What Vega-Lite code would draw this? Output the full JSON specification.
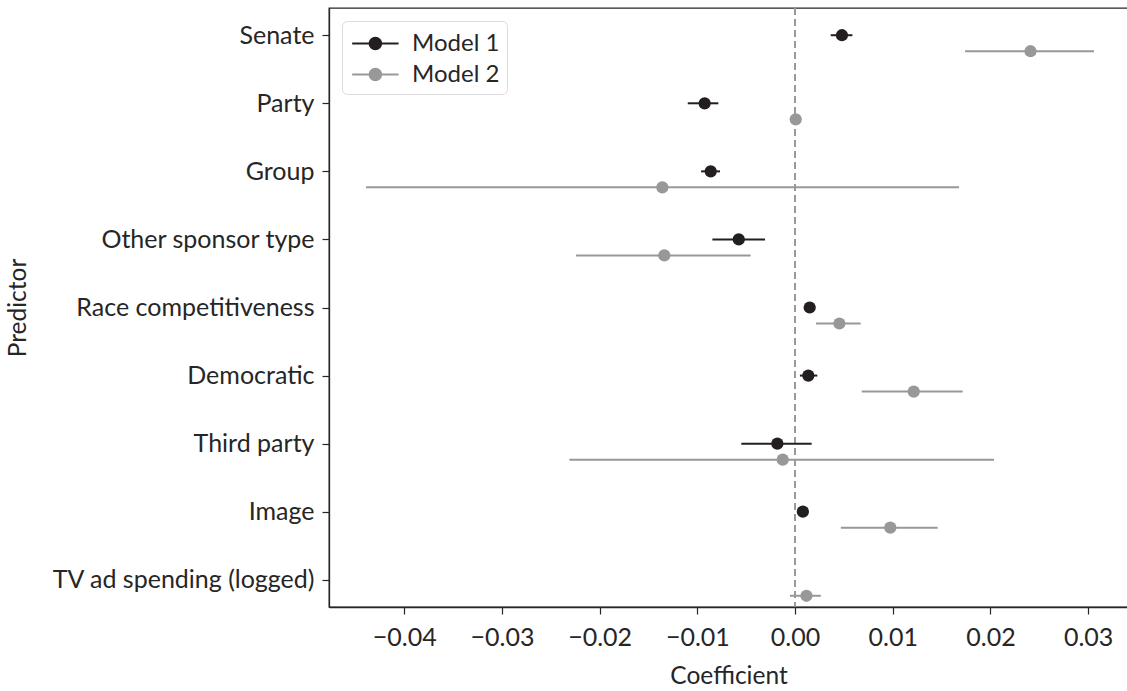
{
  "$schema": "https://vega.github.io/schema/vega-lite/v6.json",
  "width": 799,
  "height": 599,
  "autosize": {"type": "none"},
  "padding": {"left": 329, "top": 8, "right": 0, "bottom": 84},
  "background": "white",
  "config": {
    "font": "Lato",
    "view": {"stroke": "#262626", "strokeWidth": 1.3},
    "axis": {
      "grid": false,
      "domainColor": "#262626",
      "domainWidth": 1.3,
      "tickColor": "#262626",
      "tickWidth": 1.2,
      "tickSize": 7,
      "labelColor": "#262626",
      "titleColor": "#262626",
      "labelFont": "Lato",
      "titleFont": "Lato",
      "labelFontSize": 25,
      "titleFontSize": 24.5,
      "titleFontWeight": "normal",
      "labelPadding": 8,
      "labelLimit": 500
    }
  },
  "data": {
    "values": [
      {"model": "Model 1", "predictor": "Senate", "est": 0.0048, "lo": 0.00365, "hi": 0.00587},
      {"model": "Model 1", "predictor": "Party", "est": -0.00925, "lo": -0.01098, "hi": -0.00785},
      {"model": "Model 1", "predictor": "Group", "est": -0.00863, "lo": -0.00962, "hi": -0.00768},
      {"model": "Model 1", "predictor": "Other sponsor type", "est": -0.00576, "lo": -0.00846, "hi": -0.00307},
      {"model": "Model 1", "predictor": "Race competitiveness", "est": 0.0015, "lo": 0.0012, "hi": 0.0018},
      {"model": "Model 1", "predictor": "Democratic", "est": 0.00136, "lo": 0.0005, "hi": 0.00228},
      {"model": "Model 1", "predictor": "Third party", "est": -0.00181, "lo": -0.0055, "hi": 0.0017},
      {"model": "Model 1", "predictor": "Image", "est": 0.0008, "lo": 0.0005, "hi": 0.0011},
      {"model": "Model 2", "predictor": "Senate", "est": 0.0241, "lo": 0.0174, "hi": 0.0306},
      {"model": "Model 2", "predictor": "Party", "est": 0.00007, "lo": -0.0002, "hi": 0.0003},
      {"model": "Model 2", "predictor": "Group", "est": -0.01358, "lo": -0.04391, "hi": 0.01679},
      {"model": "Model 2", "predictor": "Other sponsor type", "est": -0.01338, "lo": -0.02242, "hi": -0.00454},
      {"model": "Model 2", "predictor": "Race competitiveness", "est": 0.00454, "lo": 0.00215, "hi": 0.00672},
      {"model": "Model 2", "predictor": "Democratic", "est": 0.01215, "lo": 0.00683, "hi": 0.01716},
      {"model": "Model 2", "predictor": "Third party", "est": -0.00126, "lo": -0.0231, "hi": 0.02037},
      {"model": "Model 2", "predictor": "Image", "est": 0.00975, "lo": 0.00469, "hi": 0.0146},
      {"model": "Model 2", "predictor": "TV ad spending (logged)", "est": 0.00117, "lo": -0.00052, "hi": 0.00264}
    ]
  },
  "encoding": {
    "y": {
      "field": "predictor",
      "type": "nominal",
      "sort": ["Senate", "Party", "Group", "Other sponsor type", "Race competitiveness", "Democratic", "Third party", "Image", "TV ad spending (logged)"],
      "scale": {"type": "point", "padding": 0.4, "domain": ["Senate", "Party", "Group", "Other sponsor type", "Race competitiveness", "Democratic", "Third party", "Image", "TV ad spending (logged)"]},
      "axis": {"title": "Predictor", "titleX": -311, "titleY": 299.5, "titleAlign": "center", "titleBaseline": "middle", "titleAngle": 270}
    }
  },
  "layer": [
    {
      "mark": {"type": "rule", "strokeDash": [7, 4], "color": "#9a9a9a", "strokeWidth": 1.6},
      "encoding": {
        "x": {"datum": 0, "type": "quantitative"},
        "y": null
      }
    },
    {
      "transform": [{"filter": "datum.model === 'Model 1'"}],
      "encoding": {
        "color": {
          "field": "model",
          "type": "nominal",
          "scale": {"domain": ["Model 1", "Model 2"], "range": ["#231f20", "#98989b"]},
          "legend": {
            "title": null,
            "orient": "top-left",
            "offset": 13,
            "padding": 7,
            "strokeColor": "#dcdcdc",
            "cornerRadius": 5,
            "fillColor": "white",
            "symbolType": "M-0.85,0H0.35M1.15,0H2.35M0.35,0A0.4,0.4 0 1,0 1.15,0A0.4,0.4 0 1,0 0.35,0Z",
            "symbolSize": 841,
            "symbolStrokeWidth": 2,
            "labelFont": "Lato",
            "labelFontSize": 24,
            "labelColor": "#262626",
            "labelOffset": 32,
            "rowPadding": 3,
            "encode": {
              "symbols": {
                "update": {
                  "stroke": {"scale": "color", "field": "value"},
                  "fill": {"scale": "color", "field": "value"},
                  "opacity": {"value": 1},
                  "strokeWidth": {"value": 2}
                }
              }
            }
          }
        }
      },
      "layer": [
        {
          "mark": {"type": "rule", "strokeWidth": 2},
          "encoding": {
            "x": {
              "field": "lo",
              "type": "quantitative",
              "scale": {"domain": [-0.0477, 0.03408], "nice": false, "zero": false},
              "axis": {"title": "Coefficient", "values": [-0.04, -0.03, -0.02, -0.01, 0, 0.01, 0.02, 0.03], "format": ".2f", "labelPadding": 11, "titlePadding": 14}
            },
            "x2": {"field": "hi"}
          }
        },
        {
          "mark": {"type": "circle", "size": 150, "opacity": 1},
          "encoding": {"x": {"field": "est", "type": "quantitative"}}
        }
      ]
    },
    {
      "transform": [{"filter": "datum.model === 'Model 2'"}],
      "encoding": {
        "color": {"field": "model", "type": "nominal"}
      },
      "layer": [
        {
          "mark": {"type": "rule", "strokeWidth": 2, "yOffset": 16},
          "encoding": {
            "x": {"field": "lo", "type": "quantitative"},
            "x2": {"field": "hi"}
          }
        },
        {
          "mark": {"type": "circle", "size": 150, "opacity": 1, "yOffset": 16},
          "encoding": {"x": {"field": "est", "type": "quantitative"}}
        }
      ]
    }
  ]
}
